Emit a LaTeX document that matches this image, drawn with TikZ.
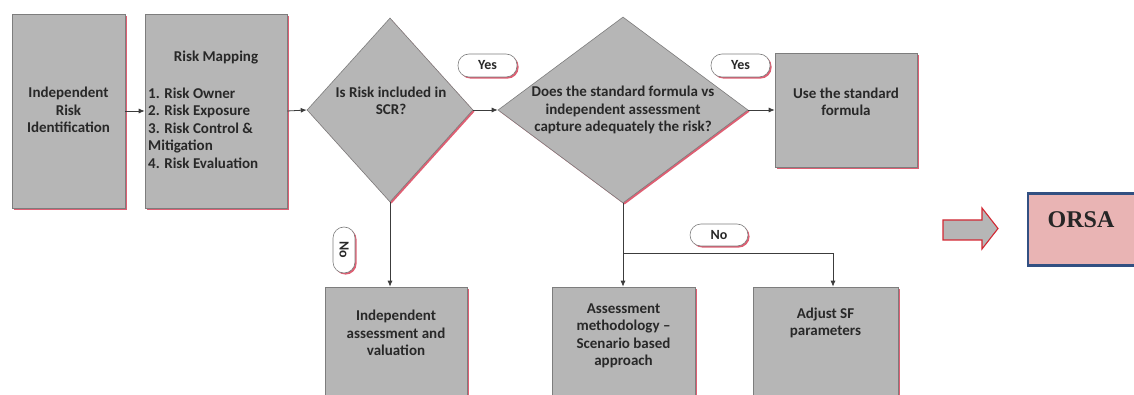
\documentclass[tikz,border=0pt]{standalone}
\usepackage{fontspec}
\setmainfont{Carlito}
\newfontfamily\orsafont{Liberation Serif}
\usetikzlibrary{shapes.geometric,shadows,arrows.meta}
\definecolor{boxgray}{RGB}{182,182,182}
\definecolor{edgegray}{RGB}{125,125,125}
\definecolor{shred}{RGB}{222,95,115}
\definecolor{txt}{RGB}{40,40,40}
\definecolor{linec}{RGB}{60,60,60}
\definecolor{orsafill}{RGB}{233,180,180}
\definecolor{orsaedge}{RGB}{50,80,130}
\definecolor{arrred}{RGB}{210,40,50}
\begin{document}
\begin{tikzpicture}[x=1pt,y=-1pt,
  redshadow/.style={drop shadow={shadow xshift=1.6pt,shadow yshift=-1.6pt,fill=shred,opacity=1}},
  stepbox/.style={draw=edgegray,line width=0.6pt,fill=boxgray,inner sep=0pt,redshadow},
  decision/.style={diamond,draw=edgegray,line width=0.6pt,fill=boxgray,inner sep=0pt,redshadow},
  txtnode/.style={text=txt,font=\bfseries\fontsize{15}{17.5}\selectfont,align=center,inner sep=0pt},
  pill/.style={draw=edgegray,line width=0.6pt,fill=white,rounded corners=11pt,inner sep=0pt,
    text=txt,font=\bfseries\fontsize{14}{16}\selectfont,redshadow},
  conn/.style={draw=linec,line width=0.8pt,-{Latex[length=6pt,width=5pt]}},
  plainline/.style={draw=linec,line width=0.8pt}
]
\useasboundingbox (0,0) rectangle (1134,395);
\clip (0,0) rectangle (1134,395);

% top row boxes
\node[stepbox,minimum width=113pt,minimum height=194pt] (b1) at (68.5,111) {};
\node[stepbox,minimum width=142pt,minimum height=194pt] (b2) at (216,111) {};
\node[stepbox,minimum width=142pt,minimum height=114pt] (b3) at (846,110) {};

% decisions
\node[decision,minimum width=166pt,minimum height=184pt] (d1) at (390,110) {};
\node[decision,minimum width=250pt,minimum height=186pt] (d2) at (623,110) {};

% bottom boxes
\node[stepbox,minimum width=142pt,minimum height=116pt] (b4) at (396,345) {};
\node[stepbox,minimum width=143pt,minimum height=116pt] (b5) at (623.5,345) {};
\node[stepbox,minimum width=145pt,minimum height=116pt] (b6) at (825.5,345) {};

% texts
\node[txtnode] (t1) at (68.5,110) {Independent\\Risk\\Identification};
\node[txtnode] (t2a) at (216,58) {Risk Mapping};
\node[txtnode,align=left,anchor=west] (t2b) at (148,128) {1. Risk Owner\\2. Risk Exposure\\3. Risk Control \&\\Mitigation\\4. Risk Evaluation};
\node[txtnode] (td1) at (391,101) {Is Risk included in\\SCR?};
\node[txtnode] (td2) at (623,110) {Does the standard formula vs\\independent assessment\\capture adequately the risk?};
\node[txtnode] (t3) at (846,102) {Use the standard\\formula};
\node[txtnode] (t4) at (396,333) {Independent\\assessment and\\valuation};
\node[txtnode] (t5) at (623.5,336) {Assessment\\methodology --\\Scenario based\\approach};
\node[txtnode] (t6) at (825.5,323) {Adjust SF\\parameters};

% labels
\node[pill,minimum width=59pt,minimum height=23pt] (y1) at (487.5,65.5) {Yes};
\node[pill,minimum width=59pt,minimum height=23pt] (y2) at (740.5,65.5) {Yes};
\node[pill,minimum width=58pt,minimum height=22pt] (n2) at (719,235) {No};
\node[pill,minimum width=46pt,minimum height=22pt,rotate=-90] (n1) at (344,250) {No};

% connectors
\draw[conn] (b1.east) -- (b2.west);
\draw[conn] (b2.east) -- (d1.west);
\draw[conn] (d1.east) -- (d2.west);
\draw[conn] (d2.east) -- (b3.west);
\draw[conn] (d1.south) -- (d1.south |- b4.north);
\coordinate (j) at (623,253);
\draw[plainline] (d2.south) -- (j);
\draw[conn] (j) -- (j |- b5.north);
\draw[conn] (j) -| ([xshift=7.5pt]b6.north);

% ORSA
\draw[draw=arrred,line width=1.1pt,fill=boxgray]
  (943,220) -- (982,220) -- (982,208) -- (998,228.5) -- (982,249) -- (982,240) -- (943,240) -- cycle;
\node[draw=orsaedge,line width=2.6pt,fill=orsafill,minimum width=120pt,minimum height=72pt,inner sep=0pt] (orsa) at (1088,229.5) {};
\node[font=\orsafont\bfseries\fontsize{24}{26}\selectfont,text=black!85,inner sep=0pt] (orsat) at (1081,220) {ORSA};
\end{tikzpicture}
\end{document}
